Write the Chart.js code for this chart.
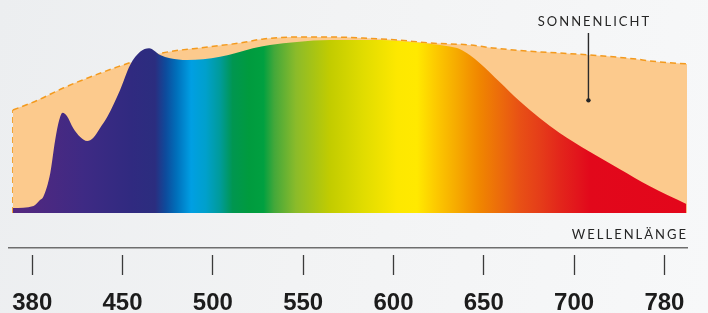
<!DOCTYPE html>
<html><head><meta charset="utf-8">
<script src="https://cdn.jsdelivr.net/npm/chart.js@4.4.0/dist/chart.umd.min.js"></script>
<style>
html,body{margin:0;padding:0;}
body{width:708px;height:313px;overflow:hidden;background:linear-gradient(100deg,#eceef0 0%,#f2f3f4 45%,#f7f8f9 100%);}
canvas{display:block;}
</style></head><body>
<canvas id="c" width="708" height="313"></canvas>
<script>
// ---- data ----
const tickLabels = ['380','450','500','550','600','650','700','780'];
const tickWavelengths = [380,450,500,550,600,650,700,780];

const sunWavelengths = [365,384,404,425,446,456,472,497,515,528,547,565,583,602,620,642,655,674,692,713,746,776,800];
const sunValues      = [58.5,64,71,77.3,83,86,90.9,94.3,96.6,98.9,100,100,99.4,98.3,96.6,95.5,93.8,92,90.9,89.8,88.1,85.8,84.7];

const ledWavelengths = [365,381,386,388.5,394,397.8,400.9,403.5,407,411.7,417.2,422.6,427.2,432.6,438.1,448.1,454.2,459.7,464.7,470.8,476.3,485.7,494.6,504,513.3,522.2,531.6,546.5,564.8,592.4,609,625.6,631.1,636.6,642.2,647.7,658.8,669.8,680.9,692,712.7,740.2,766.7,799.4];
const ledValues      = [2.8,4,7.4,9.1,22.7,41.5,52.8,57,55,48.3,43.2,40.9,42.6,48.3,54.5,69.9,84.1,91.6,93.6,89.8,87.9,86.9,87.3,88.8,91.1,93.6,95.5,97.2,98.3,98.3,97.2,95.5,94.6,93.2,89.8,85.2,74.4,63.6,54,45.5,35.2,25,15.3,5.1];

const axisRangeNm = [362, 800];
const valueRange = [-19.886, 121.02];
const pointerNm = 712.7, pointerValue = 64;

// ---- styles ----
const ledColorStops = [[365,'#55287f'],[420,'#3e2a84'],[455,'#302a80'],[468,'#2b2d7f'],[474,'#0d4c9d'],[480,'#0070bb'],[488,'#009fe3'],[496,'#00a0cc'],[504,'#009b9a'],[511,'#009650'],[520,'#009b3e'],[528,'#00a040'],[534,'#43a83a'],[546,'#8bbb2a'],[565,'#c2cc00'],[583,'#e0dc00'],[602,'#fde800'],[613,'#ffe900'],[624,'#fcc800'],[635,'#f6aa00'],[642,'#f39500'],[648,'#f08500'],[659,'#ec6b0b'],[670,'#e85015'],[681,'#e53d19'],[692,'#e3261b'],[703,'#e2151c'],[714,'#e2081b'],[800,'#e3061b']];
const sunFill = '#fcca8d';
const sunLine = '#f39a1e';

function toPos(nm){
  const t = tickWavelengths;
  let i = 0;
  if (nm <= t[0]) i = 0;
  else if (nm >= t[t.length-1]) i = t.length-2;
  else { while (nm > t[i+1]) i++; }
  return i + (nm - t[i]) / (t[i+1] - t[i]);
}
const pts = (w, v) => w.map((nm, i) => ({x: toPos(nm), y: v[i]}));

function ledGradient(ctx){
  const chart = ctx.chart;
  if (!chart.chartArea) return '#302a80';
  const xs = chart.scales.x;
  const x0 = xs.getPixelForValue(toPos(axisRangeNm[0]));
  const x1 = xs.getPixelForValue(toPos(axisRangeNm[1]));
  const g = chart.ctx.createLinearGradient(x0, 0, x1, 0);
  ledColorStops.forEach(([nm, c]) => {
    const f = (xs.getPixelForValue(toPos(nm)) - x0) / (x1 - x0);
    g.addColorStop(Math.min(1, Math.max(0, f)), c);
  });
  return g;
}

const overlay = {
  id: 'overlay',
  afterDraw(chart){
    const {ctx, scales:{x, y}} = chart;
    ctx.save();
    ctx.fillStyle = '#262626';
    ctx.strokeStyle = '#2a2a2a';
    ctx.font = '400 13px Lato, "Open Sans", sans-serif';
    ctx.letterSpacing = '2px';
    const px = x.getPixelForValue(toPos(pointerNm));
    const py = y.getPixelForValue(pointerValue);
    ctx.textAlign = 'center';
    ctx.textBaseline = 'alphabetic';
    ctx.fillText('SONNENLICHT', px + 6, 26);
    ctx.lineWidth = 1.4;
    ctx.beginPath(); ctx.moveTo(px, 33); ctx.lineTo(px, py); ctx.stroke();
    ctx.beginPath(); ctx.arc(px, py, 2.2, 0, Math.PI*2); ctx.fill();
    ctx.textAlign = 'right';
    ctx.fillText('WELLENLÄNGE', x.right + 1, 239);
    ctx.restore();
  }
};

const sunPts = pts(sunWavelengths, sunValues);
const edgeStyle = {borderColor: sunLine, borderWidth: 1.5, borderDash: [6,4], pointRadius: 0, fill: false, tension: 0, order: 2};

new Chart(document.getElementById('c'), {
  type: 'line',
  data: {
    datasets: [
      {label:'LED', data: pts(ledWavelengths, ledValues), backgroundColor: ledGradient, borderWidth: 0, pointRadius: 0, fill: 'origin', cubicInterpolationMode: 'monotone', order: 0},
      {label:'Sonnenlicht', data: sunPts, backgroundColor: sunFill, borderColor: sunLine, borderWidth: 1.5, borderDash: [6,4], pointRadius: 0, fill: 'origin', cubicInterpolationMode: 'monotone', order: 1},
      Object.assign({label:'edgeL', data: [{x: sunPts[0].x, y: 0}, sunPts[0]]}, edgeStyle),
      Object.assign({label:'edgeR', data: [sunPts[sunPts.length-1], {x: sunPts[sunPts.length-1].x, y: 0}]}, edgeStyle)
    ]
  },
  options: {
    responsive: false,
    animation: false,
    layout: {padding: {left: 9, right: 21, top: 0, bottom: 0}},
    plugins: {legend: {display: false}, tooltip: {enabled: false}},
    scales: {
      x: {
        type: 'linear',
        min: toPos(axisRangeNm[0]),
        max: toPos(axisRangeNm[1]),
        afterBuildTicks: s => { s.ticks = tickLabels.map((_, i) => ({value: i})); },
        afterFit: s => { s.height = 65; s.paddingLeft = 0; s.paddingRight = 0; },
        ticks: {
          callback: (v, i) => tickLabels[i],
          font: {family: '"Liberation Sans", Arial, sans-serif', size: 24, weight: 'bold'},
          color: '#1c1c1c', padding: 14, maxRotation: 0, autoSkip: false
        },
        grid: {drawOnChartArea: false, drawTicks: true, tickLength: 27, tickColor: '#3a3a3a', tickWidth: 1.3, tickBorderDash: [0, 6.5, 20, 20]},
        border: {display: true, color: '#6e6e6e', width: 1.5}
      },
      y: {type: 'linear', display: false, min: valueRange[0], max: valueRange[1]}
    }
  },
  plugins: [overlay]
});
</script>
</body></html>
